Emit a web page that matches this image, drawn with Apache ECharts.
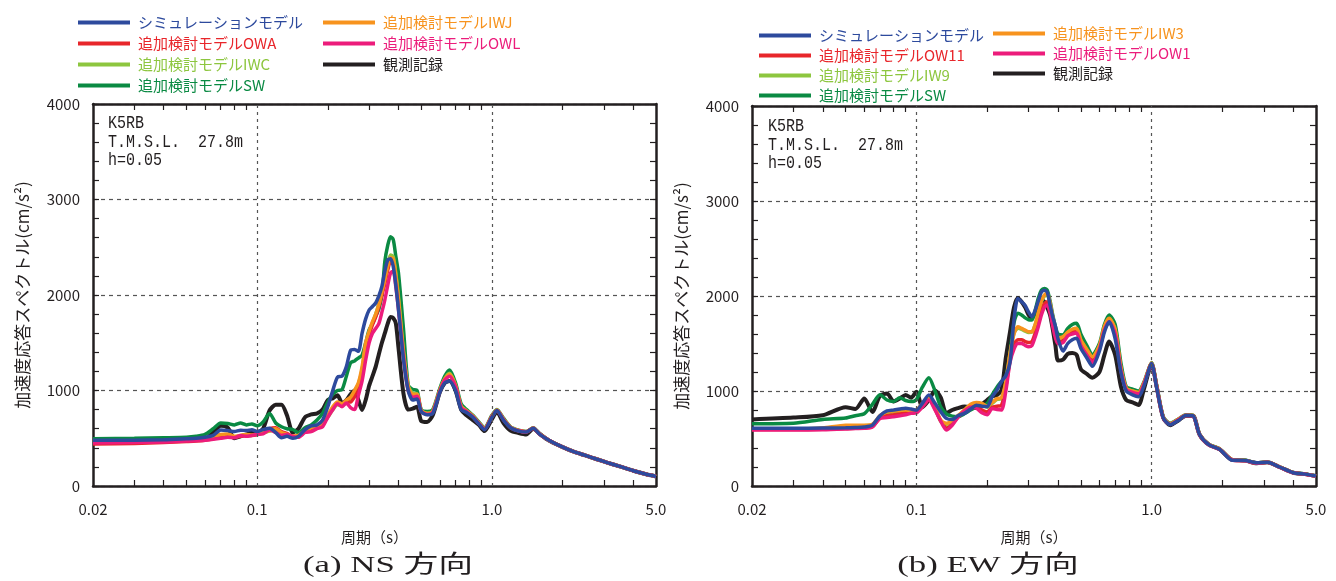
<!DOCTYPE html>
<html>
<head>
<meta charset="utf-8">
<title>加速度応答スペクトル</title>
<script src="https://cdn.jsdelivr.net/npm/echarts@6.0.0/dist/echarts.min.js"></script>
<style>
  html, body { margin: 0; padding: 0; background: #fff; }
  #main { width: 1336px; height: 581px; }
</style>
</head>
<body>
<div id="main"></div>
<script>
// 周期 (s) : both panels share the same sampling
const periods = [
  0.02, 0.03, 0.04, 0.05, 0.055, 0.06, 0.065, 0.07, 0.075, 0.08,
  0.085, 0.09, 0.095, 0.1, 0.106, 0.113, 0.12, 0.127, 0.134, 0.142,
  0.15, 0.16, 0.17, 0.18, 0.19, 0.2, 0.21, 0.22, 0.23, 0.24,
  0.25, 0.26, 0.27, 0.28, 0.29, 0.3, 0.31, 0.32, 0.33, 0.34,
  0.35, 0.36, 0.37, 0.38, 0.39, 0.4, 0.42, 0.44, 0.46, 0.48,
  0.5, 0.53, 0.56, 0.6, 0.63, 0.66, 0.7, 0.74, 0.78, 0.83,
  0.88, 0.93, 1.0, 1.05, 1.12, 1.2, 1.3, 1.4, 1.5, 1.6,
  1.75, 1.95, 2.2, 2.5, 2.8, 3.1, 3.5, 4.0, 4.5, 5.0
];

// (a) NS 方向  (cm/s2)
const nsSim = [
  478, 480, 485, 495, 500, 510, 530, 586, 580, 570,
  585, 580, 590, 570, 590, 604, 560, 505, 520, 500,
  520, 590, 630, 640, 690, 830, 1000, 1140, 1150, 1250,
  1420, 1430, 1410, 1600, 1750, 1843, 1880, 1916, 1990, 2090,
  2250, 2366, 2380, 2300, 2100, 1850, 1330, 1000, 900, 910,
  780, 745, 760, 980, 1080, 1100, 1000, 800, 770, 720,
  650, 590, 720, 790, 690, 610, 575, 565, 605, 540,
  480, 420, 365, 320, 280, 245, 205, 160, 125, 100
];
const nsOWA = [
  440, 445, 455, 465, 470, 480, 495, 510, 515, 510,
  520, 530, 530, 540, 560, 600, 610, 570, 550, 520,
  520, 570, 600, 610, 640, 730, 820, 870, 850, 880,
  880, 940, 1040, 1180, 1420, 1580, 1690, 1770, 1880, 2000,
  2120, 2260, 2350, 2340, 2150, 1900, 1380, 1020, 950, 950,
  785, 755, 775, 995, 1115, 1160, 1045, 825, 782, 728,
  658, 598, 728, 793, 698, 614, 579, 567, 606, 542,
  480, 420, 365, 320, 280, 245, 205, 160, 125, 100
];
const nsIWC = [
  465, 470, 475, 485, 490, 500, 515, 535, 540, 515,
  525, 535, 530, 540, 555, 575, 590, 555, 535, 515,
  525, 575, 600, 620, 650, 720, 800, 850, 840, 880,
  920, 990, 1070, 1220, 1470, 1610, 1710, 1800, 1910, 2040,
  2170, 2320, 2420, 2400, 2220, 1980, 1420, 1050, 970, 965,
  792, 762, 782, 1005, 1125, 1180, 1055, 835, 788, 732,
  662, 602, 732, 797, 702, 616, 581, 569, 608, 543,
  480, 420, 365, 320, 280, 245, 205, 160, 125, 100
];
const nsSW = [
  495, 500, 505, 510, 520, 540, 600, 660, 655, 640,
  660, 640, 650, 630, 670, 760, 660, 620, 600, 590,
  560, 610, 640, 690, 760, 880, 960, 1000, 1010, 1150,
  1290, 1310, 1340, 1370, 1500, 1634, 1700, 1780, 1850, 2000,
  2350, 2520, 2610, 2580, 2400, 2230, 1650, 1060, 1010, 1000,
  800, 780, 800, 1020, 1150, 1215, 1080, 860, 800, 740,
  670, 610, 740, 800, 710, 620, 585, 570, 610, 545,
  480, 420, 365, 320, 280, 245, 205, 160, 125, 100
];
const nsIWJ = [
  460, 465, 470, 480, 490, 500, 520, 540, 545, 520,
  530, 540, 535, 545, 560, 580, 600, 560, 540, 520,
  530, 580, 610, 620, 650, 740, 830, 880, 860, 900,
  930, 1000, 1080, 1250, 1500, 1620, 1720, 1800, 1900, 2030,
  2160, 2300, 2390, 2380, 2200, 1950, 1400, 1040, 960, 960,
  790, 760, 780, 1000, 1120, 1170, 1050, 830, 785, 730,
  660, 600, 730, 795, 700, 615, 580, 568, 607, 542,
  480, 420, 365, 320, 280, 245, 205, 160, 125, 100
];
const nsOWL = [
  450, 455, 460, 470, 475, 480, 490, 500, 510, 505,
  530, 520, 530, 540, 545, 590, 560, 530, 540, 520,
  510, 560, 570, 600, 620, 720, 800, 860, 830, 870,
  820, 800, 950, 1100, 1320, 1500, 1600, 1650, 1700, 1820,
  1950, 2100, 2230, 2250, 2080, 1850, 1350, 1000, 930, 940,
  780, 750, 770, 990, 1110, 1150, 1040, 820, 780, 725,
  655, 595, 725, 790, 695, 612, 578, 566, 605, 541,
  480, 420, 365, 320, 280, 245, 205, 160, 125, 100
];
const nsObs = [
  470, 470, 475, 495, 505, 495, 560, 630, 610, 500,
  520, 540, 560, 560, 600, 790, 850, 850, 740, 560,
  600, 720, 750, 760, 800, 900, 918, 950, 870, 900,
  960, 1000, 900, 796, 900, 1050, 1150, 1250, 1380, 1500,
  1600, 1700, 1770, 1760, 1700, 1450, 970, 800, 810, 830,
  680, 670, 740, 980, 1080, 1100, 1000, 800, 740, 690,
  640, 575, 700, 775, 660, 580, 555, 540, 600, 545,
  475, 420, 365, 320, 280, 245, 205, 160, 125, 100
];

// (b) EW 方向  (cm/s2)
const ewSim = [
  607, 608, 610, 612, 615, 620, 640, 740, 790, 800,
  810, 818, 810, 800, 870, 958, 870, 780, 712, 700,
  740, 765, 810, 850, 840, 835, 940, 1010, 1100, 1160,
  1300, 1750, 1975, 1940, 1900, 1830, 1782, 1850, 1950, 2040,
  2060, 2040, 1905, 1780, 1680, 1550, 1420, 1500, 1540, 1555,
  1450, 1350, 1260, 1420, 1620, 1730, 1550, 1200, 1000, 960,
  940, 1060, 1290, 1040, 720, 645, 690, 745, 740, 540,
  435, 385, 272, 268, 245, 250, 200, 140, 125, 105
];
const ewOW11 = [
  595, 595, 597, 605, 608, 610, 625, 715, 740, 750,
  760, 770, 775, 780, 845, 915, 810, 690, 610, 650,
  725, 795, 840, 840, 800, 780, 830, 840, 850, 1040,
  1330, 1490, 1540, 1540, 1520, 1510, 1520, 1610, 1720, 1840,
  1920, 1940, 1850, 1720, 1590, 1520, 1530, 1590, 1620, 1630,
  1500, 1400, 1320, 1460, 1660, 1750, 1620, 1230, 1020, 990,
  975, 1085, 1290, 1050, 720, 650, 700, 745, 740, 540,
  436, 386, 276, 267, 241, 250, 200, 140, 124, 105
];
const ewIW9 = [
  600, 602, 608, 630, 632, 635, 645, 730, 770, 780,
  785, 790, 785, 790, 860, 920, 820, 680, 650, 680,
  735, 795, 850, 870, 860, 830, 870, 910, 920, 1080,
  1380, 1610, 1660, 1650, 1630, 1615, 1620, 1700, 1820, 1940,
  2000, 2010, 1920, 1770, 1630, 1555, 1565, 1615, 1645, 1655,
  1530, 1430, 1350, 1470, 1670, 1760, 1640, 1240, 1028, 998,
  982, 1088, 1293, 1053, 723, 653, 701, 746, 742, 542,
  437, 387, 276, 268, 242, 250, 200, 140, 125, 105
];
const ewSW = [
  655, 660, 700, 715, 740, 760, 860, 960, 905, 890,
  930, 900, 890, 910, 1040, 1140, 1000, 830, 760, 735,
  730, 760, 800, 830, 850, 870, 960, 1040, 1100, 1150,
  1400, 1720, 1818, 1800, 1770, 1750, 1747, 1850, 1980, 2060,
  2080, 2060, 1950, 1800, 1680, 1600, 1590, 1660, 1700, 1712,
  1600, 1480, 1380, 1500, 1700, 1800, 1700, 1300, 1045, 1020,
  1000, 1100, 1300, 1060, 730, 660, 705, 750, 745, 545,
  440, 390, 278, 270, 244, 252, 202, 142, 126, 106
];
const ewIW3 = [
  600, 600, 610, 640, 640, 640, 650, 740, 780, 790,
  795, 800, 795, 800, 870, 930, 830, 690, 660, 690,
  740, 800, 860, 880, 870, 840, 880, 920, 930, 1100,
  1400, 1600, 1677, 1660, 1640, 1625, 1625, 1700, 1830, 1950,
  2010, 2028, 1930, 1780, 1640, 1560, 1570, 1620, 1650, 1660,
  1540, 1440, 1360, 1480, 1680, 1765, 1650, 1250, 1030, 1000,
  985, 1090, 1295, 1055, 725, 655, 702, 747, 743, 543,
  438, 388, 277, 269, 243, 251, 201, 141, 125, 105
];
const ewOW1 = [
  590, 590, 592, 600, 605, 607, 620, 712, 720, 730,
  740, 750, 765, 770, 830, 905, 800, 680, 590, 640,
  720, 790, 830, 820, 770, 750, 815, 805, 800, 1000,
  1300, 1440, 1500, 1500, 1480, 1467, 1480, 1570, 1680, 1800,
  1880, 1905, 1820, 1680, 1560, 1500, 1510, 1580, 1600, 1610,
  1480, 1380, 1300, 1440, 1640, 1730, 1600, 1220, 1015, 985,
  970, 1080, 1285, 1045, 718, 648, 698, 742, 738, 538,
  434, 384, 274, 266, 240, 249, 199, 139, 124, 105
];
const ewObs = [
  700, 720, 745, 830, 810, 920, 780, 950, 975, 890,
  920, 958, 930, 993, 830, 905, 1005, 930, 765, 800,
  820, 836, 830, 820, 860, 905, 945, 958, 1010, 1350,
  1620, 1880, 1980, 1940, 1880, 1800, 1768, 1820, 1900, 1955,
  1940, 1880, 1800, 1650, 1480, 1320, 1330, 1390, 1400, 1380,
  1230, 1180, 1140, 1200, 1380, 1520, 1380, 1050, 905, 880,
  853, 1030, 1280, 1050, 720, 640, 690, 740, 740, 540,
  435, 385, 275, 268, 240, 250, 200, 140, 125, 105
];

// axis ticks
const labelPeriods = [0.02, 0.1, 1, 5];
const minorPeriods = [0.03, 0.04, 0.05, 0.06, 0.07, 0.08, 0.09, 0.2, 0.3, 0.4, 0.5, 0.6, 0.7, 0.8, 0.9, 2, 3, 4];
const gridPeriods = [0.1, 1];

const FONT = '"Noto Sans CJK JP", "Noto Sans", sans-serif';
const INK = '#231f20';
const C_SIM = '#2d4a9d', C_RED = '#e8262b', C_LGREEN = '#8dc63f', C_GREEN = '#0a8a43',
      C_ORANGE = '#f7931e', C_PINK = '#ec1c7b', C_OBS = INK;

const colorOf = {
  'シミュレーションモデル': C_SIM,
  '追加検討モデルOWA': C_RED, '追加検討モデルOW11': C_RED,
  '追加検討モデルIWC': C_LGREEN, '追加検討モデルIW9': C_LGREEN,
  '追加検討モデルSW': C_GREEN,
  '追加検討モデルIWJ': C_ORANGE, '追加検討モデルIW3': C_ORANGE,
  '追加検討モデルOWL': C_PINK, '追加検討モデルOW1': C_PINK,
  '観測記録': C_OBS
};

function line(name, values, panel, width) {
  const color = colorOf[name];
  return {
    name: name, type: 'line', xAxisIndex: panel * 2, yAxisIndex: panel * 2,
    data: periods.map((p, i) => [p, values[i]]),
    symbol: 'none', smooth: 0.25, color: color,
    lineStyle: { color: color, width: width || 3.5 },
    z: 3, silent: true
  };
}

// dashed vertical grid lines at 0.1 s and 1.0 s
function vGrid(panel) {
  return {
    type: 'line', xAxisIndex: panel * 2, yAxisIndex: panel * 2, data: [], z: 1, silent: true,
    markLine: {
      silent: true, symbol: 'none', label: { show: false },
      lineStyle: { color: '#555', width: 1.2, type: [3, 4] },
      data: gridPeriods.map(p => ({ xAxis: p }))
    }
  };
}

const axisLine = { show: true, onZero: false, lineStyle: { color: INK, width: 2.5 } };
const tickStyle = { color: INK, width: 1.2 };

function xAxes(grid) {
  const base = {
    gridIndex: grid, type: 'log', logBase: 10, min: 0.02, max: 5,
    axisLine: axisLine, splitLine: { show: false }
  };
  return [
    Object.assign({}, base, {
      position: 'bottom',
      axisTick: { inside: true, length: 6, customValues: minorPeriods, lineStyle: tickStyle },
      axisLabel: {
        customValues: labelPeriods, margin: 16, color: INK, fontSize: 15, fontFamily: FONT,
        formatter: v => (v < 0.05 ? '0.02' : Number(v).toFixed(1))
      },
      name: '周期（s）', nameLocation: 'middle', nameGap: 44,
      nameTextStyle: { color: INK, fontSize: 15, fontFamily: FONT }
    }),
    Object.assign({}, base, {
      position: 'top',
      axisTick: { inside: true, length: 6, customValues: minorPeriods, lineStyle: tickStyle },
      axisLabel: { show: false }
    })
  ];
}

function yAxes(grid) {
  const base = {
    gridIndex: grid, type: 'value', min: 0, max: 4000, interval: 1000,
    axisLine: axisLine,
    axisTick: { inside: true, length: 6, lineStyle: tickStyle },
    minorTick: { show: true, splitNumber: 5, length: 6, lineStyle: tickStyle }
  };
  return [
    Object.assign({}, base, {
      position: 'left',
      axisLabel: { margin: 13, color: INK, fontSize: 15, fontFamily: FONT, formatter: v => String(v) },
      splitLine: { show: true, lineStyle: { color: '#555', width: 1.2, type: [4, 4] } },
      name: '加速度応答スペクトル(cm/s²)', nameLocation: 'middle', nameRotate: 90, nameGap: 62,
      nameTextStyle: { color: INK, fontSize: 17, fontFamily: FONT }
    }),
    Object.assign({}, base, {
      position: 'right', axisLabel: { show: false }, splitLine: { show: false }
    })
  ];
}

function legendBox(left, top, gap, names) {
  return {
    left: left, top: top, orient: 'vertical', icon: 'rect',
    itemWidth: 52, itemHeight: 4, itemGap: gap, selectedMode: false,
    textStyle: { fontSize: 15, fontFamily: FONT, padding: [0, 0, 0, 3] },
    data: names.map(n => ({ name: n, textStyle: { color: colorOf[n] } }))
  };
}

function note(x, y, lines) {
  return lines.map((t, i) => ({
    type: 'text', x: x, y: y + i * 18.3, scaleY: 1.25, silent: true,
    style: { text: t, fill: INK, font: '15px "Liberation Mono", monospace', textVerticalAlign: 'top' }
  }));
}

function caption(x, text) {
  return {
    type: 'text', x: x, y: 566, scaleX: 1.45, silent: true,
    style: {
      text: text, fill: INK, font: '24px "Liberation Serif", "Noto Sans CJK JP", serif',
      textAlign: 'center', textVerticalAlign: 'middle'
    }
  };
}

const chart = echarts.init(document.getElementById('main'));
chart.setOption({
  animation: false,
  backgroundColor: '#fff',
  grid: [
    { left: 93, top: 104, width: 563, height: 382 },
    { left: 752, top: 106, width: 564, height: 380 }
  ],
  xAxis: xAxes(0).concat(xAxes(1)),
  yAxis: yAxes(0).concat(yAxes(1)),
  legend: [
    legendBox(73, 10, 6, ['シミュレーションモデル', '追加検討モデルOWA', '追加検討モデルIWC', '追加検討モデルSW']),
    legendBox(318, 10, 6, ['追加検討モデルIWJ', '追加検討モデルOWL', '観測記録']),
    legendBox(754, 23, 5, ['シミュレーションモデル', '追加検討モデルOW11', '追加検討モデルIW9', '追加検討モデルSW']),
    legendBox(988, 21, 5, ['追加検討モデルIW3', '追加検討モデルOW1', '観測記録'])
  ],
  graphic: [].concat(
    note(108, 114, ['K5RB', 'T.M.S.L.  27.8m', 'h=0.05']),
    note(768, 117, ['K5RB', 'T.M.S.L.  27.8m', 'h=0.05']),
    [caption(388, '(a) NS 方向'), caption(988, '(b) EW 方向')]
  ),
  series: [
    vGrid(0),
    line('観測記録', nsObs, 0, 4),
    line('追加検討モデルSW', nsSW, 0),
    line('追加検討モデルIWC', nsIWC, 0),
    line('追加検討モデルOWA', nsOWA, 0),
    line('追加検討モデルIWJ', nsIWJ, 0),
    line('追加検討モデルOWL', nsOWL, 0),
    line('シミュレーションモデル', nsSim, 0),
    vGrid(1),
    line('観測記録', ewObs, 1, 4),
    line('追加検討モデルSW', ewSW, 1),
    line('追加検討モデルIW9', ewIW9, 1),
    line('追加検討モデルOW11', ewOW11, 1),
    line('追加検討モデルIW3', ewIW3, 1),
    line('追加検討モデルOW1', ewOW1, 1),
    line('シミュレーションモデル', ewSim, 1)
  ]
});
</script>
</body>
</html>
